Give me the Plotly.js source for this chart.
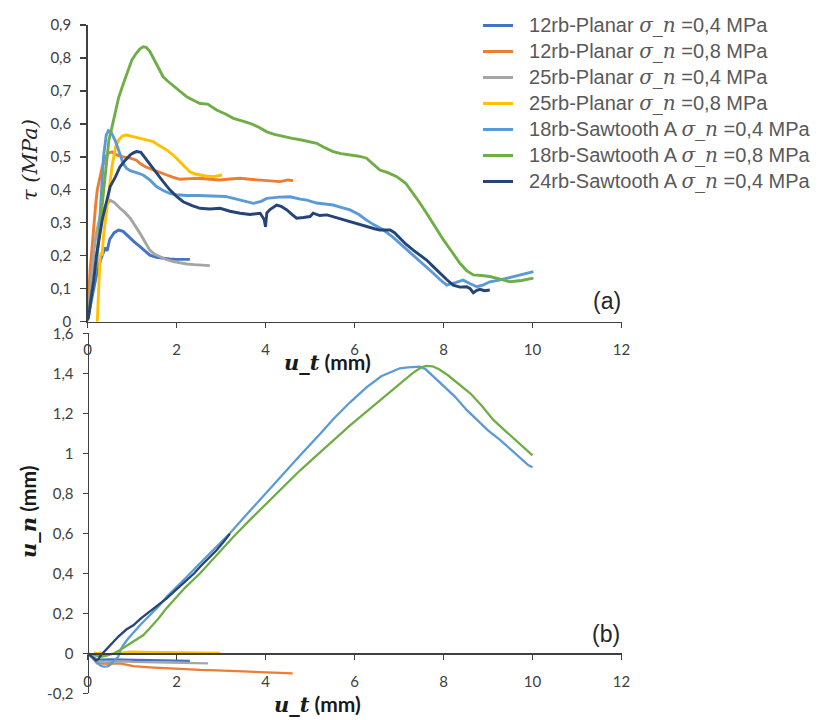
<!DOCTYPE html>
<html>
<head>
<meta charset="utf-8">
<script src="https://cdn.plot.ly/plotly-3.0.1.min.js"></script>
<style>html,body{margin:0;padding:0;background:#fff;}</style>
</head>
<body>
<div id="chart" style="width:827px;height:720px;"></div>
<script>
// ---------- series names & colours ----------
const seriesNames = [
  "12rb-Planar|0,4", "12rb-Planar|0,8", "25rb-Planar|0,4", "25rb-Planar|0,8",
  "18rb-Sawtooth A|0,4", "18rb-Sawtooth A|0,8", "24rb-Sawtooth A|0,4"
];
const seriesColors = ["#4472C4", "#ED7D31", "#A5A5A5", "#FFC000", "#5B9BD5", "#70AD47", "#264478"];

// ---------- (a) shear stress tau (MPa) vs u_t (mm) ----------
const a_12rb04_ut = [0, 0.05, 0.1, 0.2, 0.3, 0.4, 0.44, 0.5, 0.6, 0.7, 0.8, 0.96, 1.05, 1.18, 1.3, 1.4, 1.55, 1.7, 1.85, 2.0, 2.15, 2.3];
const a_12rb04_tau = [0.005, 0.04, 0.08, 0.14, 0.19, 0.225, 0.215, 0.25, 0.27, 0.278, 0.274, 0.253, 0.242, 0.228, 0.213, 0.202, 0.195, 0.192, 0.19, 0.189, 0.19, 0.189];

const a_12rb08_ut = [0, 0.03, 0.06, 0.1, 0.14, 0.18, 0.22, 0.28, 0.33, 0.4, 0.48, 0.55, 0.66, 0.8, 0.96, 1.1, 1.18, 1.3, 1.48, 1.65, 1.78, 1.95, 2.08, 2.3, 2.53, 2.75, 2.98, 3.2, 3.43, 3.65, 3.88, 4.1, 4.33, 4.5, 4.62];
const a_12rb08_tau = [0.01, 0.1, 0.16, 0.22, 0.3, 0.35, 0.4, 0.44, 0.47, 0.5, 0.512, 0.515, 0.506, 0.5, 0.496, 0.49, 0.48, 0.47, 0.46, 0.452, 0.445, 0.437, 0.432, 0.434, 0.435, 0.432, 0.43, 0.433, 0.435, 0.432, 0.43, 0.428, 0.425, 0.43, 0.428];

const a_25rb04_ut = [0, 0.05, 0.1, 0.15, 0.2, 0.28, 0.35, 0.42, 0.51, 0.6, 0.73, 0.85, 0.96, 1.08, 1.18, 1.3, 1.4, 1.5, 1.63, 1.78, 1.93, 2.08, 2.23, 2.4, 2.53, 2.65, 2.75];
const a_25rb04_tau = [0.005, 0.08, 0.16, 0.22, 0.27, 0.318, 0.34, 0.355, 0.368, 0.362, 0.344, 0.33, 0.314, 0.29, 0.268, 0.24, 0.217, 0.205, 0.197, 0.188, 0.182, 0.178, 0.175, 0.173, 0.172, 0.171, 0.17];

const a_25rb08_ut = [0.22, 0.25, 0.28, 0.31, 0.33, 0.36, 0.42, 0.48, 0.55, 0.63, 0.7, 0.78, 0.88, 1.0, 1.18, 1.3, 1.48, 1.6, 1.78, 1.93, 2.08, 2.2, 2.3, 2.42, 2.53, 2.65, 2.83, 2.95, 3.02];
const a_25rb08_tau = [0.0, 0.1, 0.19, 0.21, 0.2, 0.26, 0.33, 0.4, 0.47, 0.53, 0.551, 0.563, 0.566, 0.562, 0.556, 0.553, 0.546, 0.535, 0.521, 0.505, 0.485, 0.47, 0.455, 0.448, 0.445, 0.442, 0.44, 0.443, 0.445];

const a_18rb04_ut = [0, 0.05, 0.1, 0.15, 0.2, 0.25, 0.3, 0.36, 0.42, 0.47, 0.53, 0.62, 0.7, 0.8, 0.88, 0.96, 1.1, 1.25, 1.4, 1.55, 1.7, 1.85, 2.0, 2.23, 2.5, 2.7, 2.9, 3.1, 3.28, 3.5, 3.73, 3.9, 4.03, 4.3, 4.55, 4.78, 4.93, 5.15, 5.35, 5.52, 5.7, 5.9, 6.1, 6.27, 6.45, 6.65, 6.85, 7.02, 7.2, 7.4, 7.6, 7.77, 7.92, 8.07, 8.25, 8.44, 8.6, 8.75, 8.9, 9.04, 9.25, 9.42, 9.6, 9.72, 9.9, 10.02];
const a_18rb04_tau = [0.005, 0.04, 0.09, 0.13, 0.17, 0.25, 0.36, 0.5, 0.565, 0.58, 0.575, 0.55, 0.52, 0.48, 0.465, 0.458, 0.452, 0.445, 0.43, 0.41, 0.398, 0.389, 0.385, 0.383, 0.383, 0.382, 0.383, 0.38, 0.374, 0.366, 0.359, 0.365, 0.374, 0.378, 0.379, 0.372, 0.369, 0.36, 0.356, 0.354, 0.347, 0.339, 0.325, 0.308, 0.293, 0.278, 0.258, 0.238, 0.215, 0.192, 0.168, 0.147, 0.128, 0.111, 0.118, 0.126, 0.115, 0.106, 0.112, 0.121, 0.126, 0.132, 0.137, 0.142, 0.147, 0.152];

const a_18rb08_ut = [0, 0.05, 0.1, 0.18, 0.25, 0.33, 0.4, 0.48, 0.6, 0.7, 0.8, 0.9, 1.0, 1.1, 1.18, 1.25, 1.32, 1.4, 1.5, 1.6, 1.7, 1.8, 1.95, 2.1, 2.23, 2.4, 2.53, 2.7, 2.9, 3.1, 3.28, 3.45, 3.65, 3.85, 4.03, 4.2, 4.4, 4.6, 4.78, 4.95, 5.15, 5.3, 5.52, 5.7, 5.9, 6.1, 6.27, 6.4, 6.57, 6.75, 6.95, 7.15, 7.32, 7.47, 7.62, 7.8, 8.0, 8.2, 8.37, 8.52, 8.67, 8.85, 9.04, 9.25, 9.49, 9.75, 10.02];
const a_18rb08_tau = [0.005, 0.05, 0.1, 0.167, 0.25, 0.349, 0.45, 0.55, 0.62, 0.68, 0.72, 0.76, 0.795, 0.815, 0.828, 0.834, 0.832, 0.82, 0.795, 0.77, 0.743, 0.73, 0.713, 0.697, 0.682, 0.67, 0.662, 0.66, 0.642, 0.63, 0.617, 0.61, 0.602, 0.59, 0.576, 0.568, 0.561, 0.556, 0.552, 0.548, 0.541, 0.53, 0.516, 0.51, 0.506, 0.502, 0.496, 0.48, 0.46, 0.452, 0.44, 0.42, 0.389, 0.36, 0.329, 0.29, 0.248, 0.21, 0.177, 0.155, 0.142, 0.14, 0.137, 0.13, 0.121, 0.125, 0.132];

const a_24rb04_ut = [0, 0.03, 0.08, 0.14, 0.2, 0.28, 0.33, 0.42, 0.51, 0.63, 0.73, 0.85, 0.96, 1.03, 1.1, 1.2, 1.33, 1.45, 1.55, 1.7, 1.85, 2.0, 2.15, 2.35, 2.53, 2.75, 2.98, 3.2, 3.43, 3.65, 3.88, 3.97, 4.0, 4.03, 4.1, 4.25, 4.35, 4.48, 4.6, 4.7, 4.85, 5.0, 5.07, 5.22, 5.38, 5.6, 5.9, 6.1, 6.27, 6.45, 6.57, 6.8, 6.9, 7.02, 7.15, 7.32, 7.47, 7.62, 7.77, 7.92, 8.07, 8.22, 8.37, 8.52, 8.6, 8.67, 8.75, 8.82, 8.92, 9.04];
const a_24rb04_tau = [0.005, 0.02, 0.07, 0.126, 0.2, 0.268, 0.308, 0.36, 0.41, 0.44, 0.47, 0.49, 0.506, 0.512, 0.516, 0.514, 0.49, 0.47, 0.45, 0.425, 0.4, 0.38, 0.364, 0.352, 0.344, 0.342, 0.344, 0.335, 0.329, 0.325, 0.329, 0.31, 0.288, 0.33, 0.34, 0.354, 0.35, 0.339, 0.325, 0.314, 0.316, 0.319, 0.329, 0.322, 0.324, 0.315, 0.303, 0.295, 0.288, 0.282, 0.278, 0.278, 0.27, 0.253, 0.236, 0.217, 0.202, 0.187, 0.167, 0.147, 0.128, 0.111, 0.105, 0.106, 0.1, 0.088, 0.095, 0.098, 0.094, 0.096];

// ---------- (b) normal displacement u_n (mm) vs u_t (mm) ----------
const b_12rb04_ut = [0, 0.1, 0.2, 0.3, 0.5, 0.8, 1.2, 1.6, 2.0, 2.3];
const b_12rb04_un = [0, -0.015, -0.03, -0.032, -0.03, -0.032, -0.033, -0.035, -0.037, -0.038];

const b_12rb08_ut = [0, 0.1, 0.21, 0.35, 0.5, 0.73, 1.03, 1.4, 1.78, 2.15, 2.53, 2.9, 3.28, 3.65, 4.03, 4.35, 4.61];
const b_12rb08_un = [0, -0.02, -0.05, -0.052, -0.053, -0.05, -0.064, -0.07, -0.075, -0.079, -0.083, -0.085, -0.088, -0.09, -0.092, -0.096, -0.1];

const b_25rb04_ut = [0, 0.1, 0.25, 0.4, 0.6, 0.8, 1.03, 1.4, 1.8, 2.2, 2.5, 2.71];
const b_25rb04_un = [0, -0.02, -0.04, -0.045, -0.042, -0.04, -0.043, -0.045, -0.046, -0.048, -0.049, -0.05];

const b_25rb08_ut = [0.15, 0.21, 0.3, 0.45, 0.6, 0.8, 0.96, 1.2, 1.5, 1.8, 2.1, 2.4, 2.7, 2.98];
const b_25rb08_un = [0.005, 0, 0.003, -0.005, -0.002, 0.005, 0.008, 0.007, 0.006, 0.005, 0.006, 0.004, 0.003, 0.002];

const b_18rb04_ut = [0, 0.1, 0.2, 0.28, 0.36, 0.45, 0.51, 0.6, 0.69, 0.75, 0.8, 0.9, 1.03, 1.2, 1.4, 1.6, 1.78, 2.0, 2.2, 2.53, 2.8, 3.2, 3.6, 4.0, 4.4, 4.78, 5.22, 5.52, 5.9, 6.27, 6.6, 6.9, 7.02, 7.2, 7.47, 7.6, 7.77, 8.0, 8.25, 8.52, 8.8, 9.0, 9.27, 9.5, 9.7, 9.91, 10.0];
const b_18rb04_un = [0, -0.015, -0.04, -0.06, -0.067, -0.065, -0.058, -0.04, -0.017, 0.02, 0.04, 0.07, 0.105, 0.145, 0.19, 0.235, 0.283, 0.33, 0.375, 0.45, 0.51, 0.6, 0.7, 0.8, 0.9, 0.99, 1.095, 1.17, 1.255, 1.33, 1.385, 1.415, 1.425, 1.43, 1.433, 1.42, 1.385, 1.34, 1.285, 1.217, 1.16, 1.115, 1.067, 1.02, 0.98, 0.94, 0.93];

const b_18rb08_ut = [0, 0.1, 0.2, 0.3, 0.45, 0.6, 0.73, 0.9, 1.1, 1.25, 1.4, 1.6, 1.78, 2.0, 2.2, 2.53, 2.9, 3.28, 3.65, 4.03, 4.4, 4.78, 5.22, 5.52, 5.9, 6.27, 6.65, 7.02, 7.3, 7.5, 7.62, 7.75, 7.9, 8.1, 8.37, 8.6, 8.85, 9.12, 9.4, 9.65, 9.91, 10.0];
const b_18rb08_un = [0, -0.005, -0.012, -0.017, -0.01, 0.0, 0.017, 0.04, 0.067, 0.09, 0.125, 0.175, 0.227, 0.28, 0.33, 0.4, 0.49, 0.583, 0.667, 0.75, 0.835, 0.915, 1.003, 1.065, 1.14, 1.208, 1.28, 1.35, 1.4, 1.43, 1.437, 1.435, 1.42, 1.39, 1.342, 1.3, 1.24, 1.167, 1.11, 1.06, 1.008, 0.99];

const b_24rb04_ut = [0, 0.08, 0.14, 0.19, 0.24, 0.3, 0.4, 0.5, 0.7, 0.88, 1.03, 1.2, 1.4, 1.6, 1.78, 2.0, 2.2, 2.4, 2.53, 2.7, 2.9, 3.05, 3.2];
const b_24rb04_un = [0, -0.012, -0.025, -0.035, -0.03, -0.01, 0.015, 0.04, 0.085, 0.12, 0.14, 0.175, 0.21, 0.245, 0.275, 0.32, 0.36, 0.4, 0.433, 0.47, 0.515, 0.555, 0.597];

// ---------- tick labels ----------
const xTickVals = [0, 2, 4, 6, 8, 10, 12];
const xTickText = ["0", "2", "4", "6", "8", "10", "12"];
const tauTickVals = [0, 0.1, 0.2, 0.3, 0.4, 0.5, 0.6, 0.7, 0.8, 0.9];
const tauTickText = ["0", "0,1", "0,2", "0,3", "0,4", "0,5", "0,6", "0,7", "0,8", "0,9"];
const unTickVals = [-0.2, 0, 0.2, 0.4, 0.6, 0.8, 1, 1.2, 1.4, 1.6];
const unTickText = ["-0,2", "0", "0,2", "0,4", "0,6", "0,8", "1", "1,2", "1,4", "1,6"];

// ---------- build traces ----------
const aX = [a_12rb04_ut, a_12rb08_ut, a_25rb04_ut, a_25rb08_ut, a_18rb04_ut, a_18rb08_ut, a_24rb04_ut];
const aY = [a_12rb04_tau, a_12rb08_tau, a_25rb04_tau, a_25rb08_tau, a_18rb04_tau, a_18rb08_tau, a_24rb04_tau];
const bX = [b_12rb04_ut, b_12rb08_ut, b_25rb04_ut, b_25rb08_ut, b_18rb04_ut, b_18rb08_ut, b_24rb04_ut];
const bY = [b_12rb04_un, b_12rb08_un, b_25rb04_un, b_25rb08_un, b_18rb04_un, b_18rb08_un, b_24rb04_un];

function legendText(n) {
  const parts = n.split("|");
  return '<span style="font-size:20px">\u00a0\u00a0' + parts[0] +
    ' <i><span style="font-family:DejaVu Serif">σ_n</span></i> =' + parts[1] + ' MPa</span>';
}

const traces = [];
for (let i = 0; i < seriesNames.length; i++) {
  traces.push({
    x: aX[i], y: aY[i], xaxis: "x", yaxis: "y", type: "scatter", mode: "lines",
    name: legendText(seriesNames[i]), legendgroup: "g" + i,
    line: {color: seriesColors[i], width: 2.9}, hoverinfo: "skip"
  });
}
for (let i = 0; i < seriesNames.length; i++) {
  traces.push({
    x: bX[i], y: bY[i], xaxis: "x2", yaxis: "y2", type: "scatter", mode: "lines",
    name: seriesNames[i], legendgroup: "g" + i, showlegend: false,
    line: {color: seriesColors[i], width: 2.3}, hoverinfo: "skip"
  });
}

// ---------- layout ----------
const W = 827, H = 720;
const dx = [87.5 / W, 621.5 / W];
const dyTop = [1 - 321.7 / H, 1 - 25 / H];
const dyBot = [1 - 693.3 / H, 1 - 333.3 / H];
const zeroPos = dyBot[0] + (0 - (-0.2)) / 1.8 * (dyBot[1] - dyBot[0]);

const axCol = "#404040";
const tickFont = {family: "Lato", size: 15, color: "#404040"};
const baseX = {
  range: [0, 12], tickvals: xTickVals, ticktext: xTickText, showgrid: false, zeroline: false,
  showline: true, linecolor: axCol, linewidth: 1.3, ticks: "outside", ticklen: 5, tickwidth: 1.3,
  tickcolor: axCol, tickfont: tickFont, ticklabelstandoff: 9, fixedrange: true
};
const innerX = {
  range: [0, 12], tickvals: xTickVals, showgrid: false, zeroline: false, showline: false,
  ticks: "inside", ticklen: 5, tickwidth: 1.3, tickcolor: axCol, showticklabels: false, fixedrange: true
};

const layout = {
  width: W, height: H, margin: {l: 0, r: 0, t: 0, b: 0},
  paper_bgcolor: "#ffffff", plot_bgcolor: "rgba(0,0,0,0)",
  separators: ", ",
  showlegend: true,
  legend: {
    x: 478 / W, y: 1 - 7.5 / H, xanchor: "left", yanchor: "top",
    font: {family: "Liberation Sans", size: 17.7, color: "#595959"},
    bgcolor: "rgba(0,0,0,0)", itemwidth: 30, tracegroupgap: 0, traceorder: "normal"
  },
  xaxis: Object.assign({}, baseX, {domain: dx, anchor: "y"}),
  yaxis: {
    domain: dyTop, range: [0, 0.9], anchor: "x", tickvals: tauTickVals, ticktext: tauTickText,
    showgrid: false, zeroline: false, showline: true, linecolor: axCol, linewidth: 1.3,
    ticks: "outside", ticklen: 6, tickwidth: 1.3, tickcolor: axCol, tickfont: tickFont,
    ticklabelstandoff: 6, fixedrange: true
  },
  xaxis2: Object.assign({}, baseX, {domain: dx, anchor: "free", position: zeroPos}),
  yaxis2: {
    domain: dyBot, range: [-0.2, 1.6], anchor: "free", position: dx[0], tickvals: unTickVals, ticktext: unTickText,
    showgrid: false, zeroline: false, showline: true, linecolor: axCol, linewidth: 1.3,
    ticks: "outside", ticklen: 5, tickwidth: 1.3, tickcolor: axCol, tickfont: tickFont,
    ticklabelstandoff: 6, fixedrange: true
  },
  xaxis3: Object.assign({}, innerX, {overlaying: "x", anchor: "y"}),
  xaxis4: Object.assign({}, innerX, {overlaying: "x2", anchor: "free", position: zeroPos}),
  yaxis3: {
    overlaying: "y2", anchor: "free", position: dx[0], range: [-0.2, 1.6], tickvals: unTickVals,
    showgrid: false, zeroline: false, showline: false, ticks: "inside", ticklen: 5, tickwidth: 1.3,
    tickcolor: axCol, showticklabels: false, fixedrange: true
  },
  annotations: [
    {text: "τ (MPa)", textangle: -90, x: 30 / W, y: 1 - 160 / H, xref: "paper", yref: "paper",
     showarrow: false, xanchor: "center", yanchor: "middle",
     font: {family: "DejaVu Serif", size: 21, color: "#262626", style: "italic"}},
    {text: '<b><i><span style="font-family:DejaVu Serif">u_t</span></i> (mm)</b>', x: 327 / W, y: 1 - 362 / H,
     xref: "paper", yref: "paper", showarrow: false, xanchor: "center", yanchor: "middle",
     font: {family: "Lato", size: 21, color: "#1a1a1a"}},
    {text: '<b><i><span style="font-family:DejaVu Serif">u_t</span></i> (mm)</b>', x: 317 / W, y: 1 - 704 / H,
     xref: "paper", yref: "paper", showarrow: false, xanchor: "center", yanchor: "middle",
     font: {family: "Lato", size: 21, color: "#1a1a1a"}},
    {text: '<b><i><span style="font-family:DejaVu Serif">u_n</span></i> (mm)</b>', textangle: -90,
     x: 28 / W, y: 1 - 512 / H, xref: "paper", yref: "paper", showarrow: false, xanchor: "center", yanchor: "middle",
     font: {family: "Lato", size: 21, color: "#1a1a1a"}},
    {text: "(a)", x: 607 / W, y: 1 - 301 / H, xref: "paper", yref: "paper", showarrow: false,
     xanchor: "center", yanchor: "middle", font: {family: "Liberation Sans", size: 23, color: "#262626"}},
    {text: "(b)", x: 606 / W, y: 1 - 634 / H, xref: "paper", yref: "paper", showarrow: false,
     xanchor: "center", yanchor: "middle", font: {family: "Liberation Sans", size: 23, color: "#262626"}}
  ]
};

Plotly.newPlot("chart", traces, layout, {staticPlot: true, displayModeBar: false});
</script>
</body>
</html>
